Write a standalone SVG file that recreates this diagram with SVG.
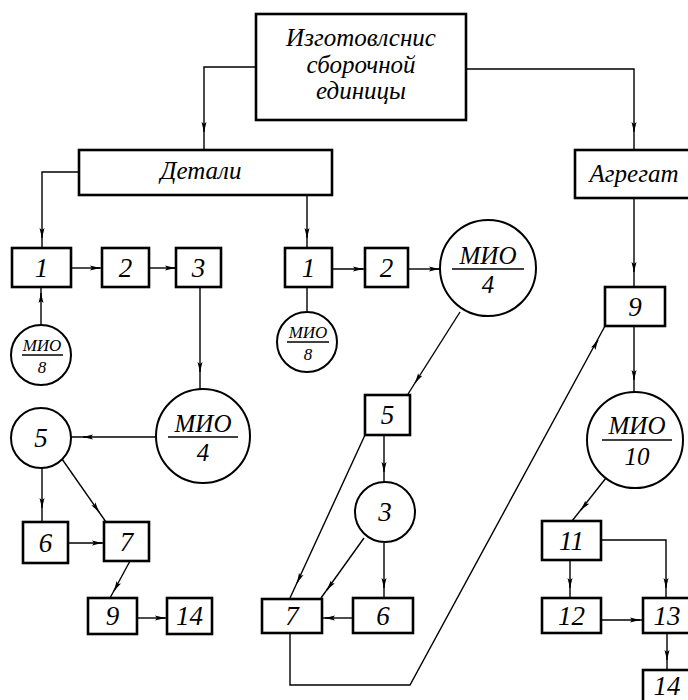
<svg xmlns="http://www.w3.org/2000/svg" width="688" height="700" viewBox="0 0 688 700">
<style>
.b{fill:#fff;stroke:#000;stroke-width:2.6}
.c{fill:#fff;stroke:#000;stroke-width:2}
.l{fill:none;stroke:#000;stroke-width:1.4}
.a{fill:none;stroke:#000;stroke-width:1.4;marker-end:url(#ah)}
.fl{stroke:#000;stroke-width:1.6}
text{font-family:"Liberation Serif","Times New Roman",serif;font-style:italic;fill:#000;text-anchor:middle;dominant-baseline:central}
.t{font-size:25px}
.n{font-size:27px}
.m{font-size:25px}
.s{font-size:17px}
</style>
<defs>
<marker id="ah" markerUnits="userSpaceOnUse" markerWidth="10" markerHeight="6" refX="10" refY="3" orient="auto">
<path d="M0,0.5 L10,3 L0,5.5 L2,3 z" fill="#000"/>
</marker>
</defs>
<rect width="688" height="700" fill="#fff"/>
<g id="connectors">
<path class="l" d="M256,67 H204 V150"/><path class="a" d="M204,128 V132"/>
<path class="l" d="M466,69 H634 V150"/><path class="a" d="M634,128 V132"/>
<path class="l" d="M79,172 H42 V248"/><path class="a" d="M42,234 V238"/>
<path class="l" d="M307,195 V248"/><path class="a" d="M307,234 V238"/>
<path class="l" d="M71,268 H102"/><path class="a" d="M96,268 H100"/>
<path class="l" d="M149,268 H176"/><path class="a" d="M171,268 H175"/>
<path class="l" d="M41,325 V287"/><path class="a" d="M41,297 V293"/>
<path class="l" d="M200,287 V389"/><path class="a" d="M200,368 V372"/>
<path class="l" d="M156,437 H71"/><path class="a" d="M87,437 H83"/>
<path class="l" d="M42,467 V522"/><path class="a" d="M42,504 V508"/>
<path class="l" d="M62,459 L106,522"/><path class="a" d="M96.7,508.7 L99,512"/>
<path class="l" d="M68,543 H104"/><path class="a" d="M98,543 H102"/>
<path class="l" d="M130,561 L110,598"/><path class="a" d="M115.9,587.5 L114,591"/>
<path class="l" d="M137,618 H167"/><path class="a" d="M161,618 H165"/>
<path class="l" d="M332,269 H365"/><path class="a" d="M359,269 H363"/>
<path class="l" d="M408,269 H440"/><path class="a" d="M435,269 H439"/>
<path class="l" d="M307,287 V312"/>
<path class="l" d="M460,312 L408,394"/><path class="a" d="M417.1,379.6 L415,383"/>
<path class="l" d="M384,435 V482"/><path class="a" d="M384,468 V472"/>
<path class="l" d="M384,543 V598"/><path class="a" d="M384,584 V588"/>
<path class="l" d="M353,618 H322"/><path class="a" d="M329,618 H325"/>
<path class="l" d="M364,538 L321,598"/><path class="a" d="M329.3,586.8 L327,590"/>
<path class="l" d="M365,435 L290,598"/><path class="a" d="M298.7,579.4 L297,583"/>
<path class="l" d="M290,633 V685 H410 L605,326"/><path class="a" d="M596.1,343.5 L598,340"/>
<path class="l" d="M634,198 V287"/><path class="a" d="M634,268 V272"/>
<path class="l" d="M634,326 V392"/><path class="a" d="M634,376 V380"/>
<path class="l" d="M606,478 L572,521"/><path class="a" d="M583.5,506.9 L581,510"/>
<path class="l" d="M570,560 V598"/><path class="a" d="M570,584 V588"/>
<path class="l" d="M601,540 H666 V598"/><path class="a" d="M666,584 V588"/>
<path class="l" d="M601,620 H643"/><path class="a" d="M636,620 H640"/>
<path class="l" d="M667,633 V670"/><path class="a" d="M667,656 V660"/>
</g>
<g id="n-top"><rect class="b" x="256" y="14" width="210" height="106"/>
<text class="t" x="361" y="37">Изготовлснис</text><text class="t" x="361" y="64">сборочной</text><text class="t" x="361" y="90">единицы</text></g>
<g id="n-detali"><rect class="b" x="79" y="150" width="253" height="45"/><text class="t" x="201" y="170">Детали</text></g>
<g id="n-agregat"><rect class="b" x="575" y="150" width="120" height="48"/><text class="t" x="634" y="173">Агрегат</text></g>
<g id="n-l1"><rect class="b" x="12" y="248" width="59" height="39"/><text class="n" x="41.5" y="267.5">1</text></g>
<g id="n-l2"><rect class="b" x="102" y="248" width="47" height="39"/><text class="n" x="125.5" y="267.5">2</text></g>
<g id="n-l3"><rect class="b" x="176" y="248" width="45" height="39"/><text class="n" x="198.5" y="267.5">3</text></g>
<g id="n-lmio8"><circle class="c" cx="41" cy="355" r="30"/><text class="s" x="42" y="345">МИО</text><line class="fl" x1="22" y1="355" x2="63" y2="355"/><text class="s" x="42" y="367">8</text></g>
<g id="n-lmio4"><circle class="c" cx="203" cy="436" r="47"/><text class="m" x="203" y="423">МИО</text><line class="fl" x1="168" y1="437" x2="238" y2="437"/><text class="m" x="203" y="452">4</text></g>
<g id="n-l5"><circle class="c" cx="41" cy="438" r="30"/><text class="n" x="41" y="438">5</text></g>
<g id="n-l6"><rect class="b" x="23" y="522" width="45" height="41"/><text class="n" x="45.5" y="542.5">6</text></g>
<g id="n-l7"><rect class="b" x="104" y="522" width="45" height="39"/><text class="n" x="126.5" y="541.5">7</text></g>
<g id="n-l9"><rect class="b" x="88" y="598" width="49" height="36"/><text class="n" x="112.5" y="616">9</text></g>
<g id="n-l14"><rect class="b" x="167" y="598" width="45" height="36"/><text class="n" x="189.5" y="616">14</text></g>
<g id="n-m1"><rect class="b" x="285" y="248" width="47" height="39"/><text class="n" x="308.5" y="267.5">1</text></g>
<g id="n-m2"><rect class="b" x="365" y="248" width="43" height="39"/><text class="n" x="386.5" y="267.5">2</text></g>
<g id="n-mmio8"><circle class="c" cx="307" cy="342" r="30"/><text class="s" x="308" y="332">МИО</text><line class="fl" x1="287" y1="342" x2="329" y2="342"/><text class="s" x="308" y="354">8</text></g>
<g id="n-mmio4"><circle class="c" cx="488" cy="268" r="48"/><text class="m" x="488" y="255">МИО</text><line class="fl" x1="452" y1="269" x2="524" y2="269"/><text class="m" x="488" y="284">4</text></g>
<g id="n-m5"><rect class="b" x="365" y="395" width="45" height="40"/><text class="n" x="387.5" y="415">5</text></g>
<g id="n-m3"><circle class="c" cx="385" cy="512" r="30"/><text class="n" x="385" y="512">3</text></g>
<g id="n-m6"><rect class="b" x="353" y="598" width="60" height="35"/><text class="n" x="383" y="615.5">6</text></g>
<g id="n-m7"><rect class="b" x="262" y="599" width="60" height="34"/><text class="n" x="292" y="616">7</text></g>
<g id="n-r9"><rect class="b" x="605" y="287" width="60" height="39"/><text class="n" x="635" y="306.5">9</text></g>
<g id="n-rmio10"><circle class="c" cx="635" cy="440" r="48"/><text class="m" x="637" y="425">МИО</text><line class="fl" x1="602" y1="440" x2="672" y2="440"/><text class="m" x="637" y="456">10</text></g>
<g id="n-r11"><rect class="b" x="542" y="521" width="59" height="39"/><text class="n" x="571.5" y="540.5">11</text></g>
<g id="n-r12"><rect class="b" x="542" y="598" width="59" height="35"/><text class="n" x="571.5" y="615.5">12</text></g>
<g id="n-r13"><rect class="b" x="643" y="598" width="49" height="35"/><text class="n" x="667" y="615.5">13</text></g>
<g id="n-r14"><rect class="b" x="643" y="670" width="49" height="38"/><text class="n" x="667" y="686">14</text></g>
</svg>
